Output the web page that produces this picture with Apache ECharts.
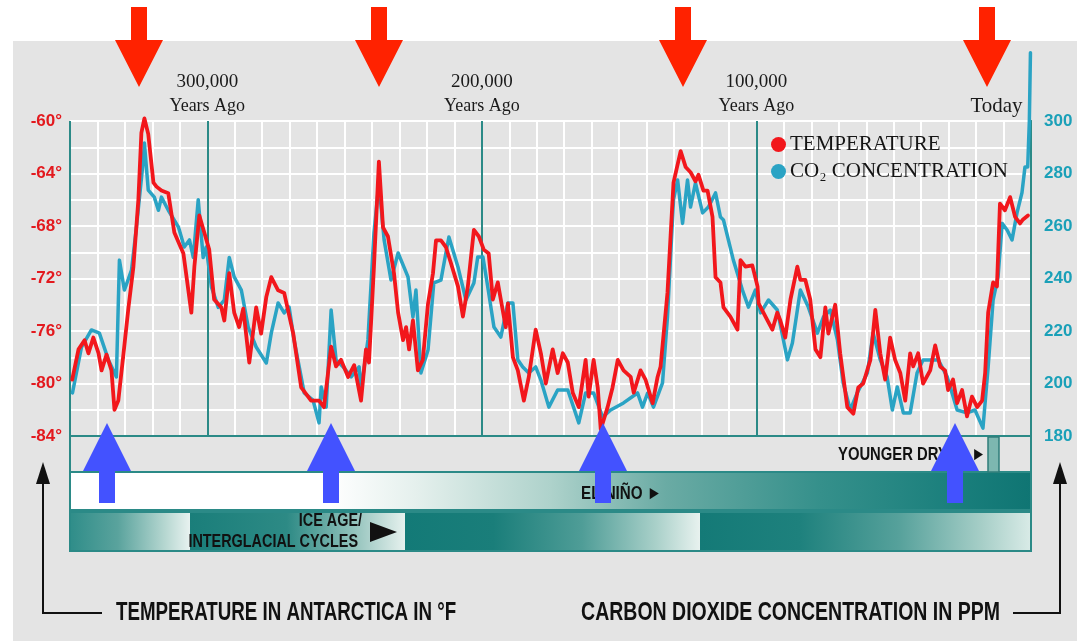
<!DOCTYPE html>
<html>
<head>
<meta charset="utf-8">
<script src="https://cdn.jsdelivr.net/npm/echarts@6/dist/echarts.min.js"></script>
<style>
html,body{margin:0;padding:0;background:#ffffff;}
#chart{width:1077px;height:641px;}
</style>
</head>
<body>
<div id="chart"></div>
<script>
// ---- Data (thousands of years ago) ----
const tempAge = [349.2,346.9,344.7,343.3,341.5,339.6,338.5,336.7,334.9,333.8,332.4,330.5,328.7,326.9,325.1,324.0,322.9,321.5,319.6,318.5,316.7,314.2,312.0,308.7,305.8,304.7,302.9,301.1,299.3,297.5,294.9,293.8,292.0,290.2,288.4,286.9,284.7,282.2,280.4,278.5,276.7,274.2,272.0,268.7,265.8,262.2,259.3,257.5,254.9,253.1,251.3,248.7,246.5,244.0,242.2,241.1,239.3,237.5,236.0,234.2,232.0,230.5,228.7,227.6,226.5,225.1,223.3,221.5,219.6,217.8,216.7,214.9,213.1,211.3,208.7,206.9,205.1,202.9,201.1,199.3,197.5,196.0,194.2,193.1,191.3,190.5,188.7,186.9,184.7,182.9,180.4,178.5,176.7,174.2,172.4,170.5,168.7,166.9,164.7,162.2,161.1,159.3,157.8,156.7,154.2,152.4,150.5,148.4,145.8,144.7,142.2,140.4,137.8,136.0,134.9,132.4,130.2,127.6,125.8,124.0,122.2,121.1,119.3,117.8,116.0,114.9,113.1,112.0,109.5,106.9,105.8,104.0,101.5,99.6,99.2,96.7,94.2,92.4,91.3,89.5,87.6,85.1,84.0,82.2,80.4,78.5,76.7,74.9,73.8,71.3,69.5,66.9,64.7,62.9,61.1,58.5,56.7,54.9,53.1,51.3,49.5,47.6,45.8,44.0,42.9,41.1,39.3,36.7,34.9,33.1,31.3,30.2,28.4,26.9,25.1,23.3,21.5,19.6,17.8,16.7,15.6,13.8,12.4,11.3,9.5,7.6,5.8,4.0,2.9,1.1];
const tempF = [-79.7,-77.4,-76.7,-77.7,-76.5,-77.7,-79.0,-77.8,-79.0,-82.0,-81.3,-77.7,-74.2,-71.1,-66.0,-60.9,-59.8,-61.0,-64.7,-65.0,-65.3,-65.5,-68.5,-70.1,-74.6,-71.1,-67.2,-68.5,-69.8,-73.6,-74.2,-75.2,-71.6,-74.6,-75.7,-74.3,-78.4,-74.2,-76.2,-73.4,-71.9,-72.9,-73.1,-76.2,-80.3,-81.3,-81.3,-81.8,-77.2,-78.7,-78.2,-79.5,-78.6,-81.3,-77.4,-78.4,-71.1,-63.1,-68.1,-68.8,-71.6,-74.6,-76.7,-75.7,-77.4,-75.2,-79.0,-78.2,-73.9,-71.6,-69.1,-69.1,-69.6,-70.8,-72.6,-74.9,-72.6,-68.3,-68.8,-69.8,-70.1,-73.6,-72.3,-73.6,-75.7,-73.9,-78.0,-79.0,-81.3,-79.5,-75.9,-77.7,-80.0,-77.4,-79.2,-77.7,-78.4,-80.7,-81.8,-78.2,-81.0,-78.2,-80.3,-83.5,-81.8,-80.3,-78.2,-79.0,-79.5,-80.7,-79.0,-79.7,-81.5,-79.5,-78.7,-73.1,-64.7,-62.3,-63.5,-63.9,-64.6,-64.1,-65.3,-65.3,-67.3,-71.9,-72.3,-74.2,-74.9,-75.9,-70.6,-71.1,-71.0,-72.6,-73.9,-74.9,-75.9,-74.6,-75.2,-76.5,-73.6,-71.1,-72.1,-72.1,-73.6,-77.4,-78.0,-74.2,-76.2,-74.0,-77.7,-81.8,-82.3,-80.3,-80.0,-78.2,-74.4,-77.7,-79.7,-76.5,-78.2,-79.2,-81.3,-77.7,-78.7,-77.7,-80.0,-79.0,-77.1,-78.7,-79.0,-80.5,-79.7,-81.5,-80.5,-82.5,-81.0,-81.8,-81.3,-79.2,-74.6,-72.3,-72.6,-66.3,-66.8,-65.8,-67.3,-67.8,-67.5,-67.2];
const co2Age = [349.1,345.8,342.2,339.3,336.0,333.1,332.0,330.2,327.6,325.8,323.3,322.9,321.5,319.3,317.8,316.7,314.2,310.5,308.4,306.5,305.1,303.3,301.5,300.4,298.5,296.0,293.8,292.0,290.2,287.6,285.1,282.2,278.5,276.7,274.2,272.0,270.2,268.4,264.7,261.5,259.3,258.5,256.7,254.9,253.1,250.5,247.6,244.7,244.0,241.5,239.3,237.5,235.6,233.1,230.5,226.9,225.1,224.0,222.2,219.6,217.5,214.9,213.1,212.0,208.7,205.8,202.9,201.5,199.6,197.5,195.6,193.1,190.5,188.7,186.9,185.1,182.9,180.4,178.5,175.6,172.4,168.7,164.7,162.2,159.3,156.0,153.1,148.4,143.3,141.5,139.6,137.5,134.2,132.4,130.2,128.7,126.9,125.1,124.0,122.2,119.6,117.5,114.9,113.1,112.0,108.4,105.1,102.9,100.4,98.5,95.6,92.4,88.7,86.9,84.0,81.1,77.8,75.6,73.1,70.5,68.4,65.8,63.3,59.6,57.5,54.9,52.4,50.5,48.7,46.5,44.0,41.5,39.3,36.7,33.8,30.5,26.9,23.3,20.4,17.5,15.6,13.8,12.0,10.5,8.7,6.9,5.1,3.3,2.2,1.2,0.6,0.2];
const co2Ppm = [196.4,213.9,220.4,219.2,209,202.5,247,235.6,243.2,259.6,285.1,291.6,273.7,271,266,271,266,259.6,252,254.7,248,270,248,252,236.8,229,231.8,248,240.6,235.6,221.5,213.9,207.8,219.2,230.7,226.9,229.1,216.6,196.4,193.7,185,198.7,191,228,209,206.3,202.5,206.3,197.5,216.6,257.3,276.4,254.7,239.4,249.7,240.6,225.3,235.6,204,212.8,238.3,239.4,249.7,255.8,244.4,231.8,238.3,248.2,248.2,234.5,221.5,217.7,230.7,230.7,209,206.3,204,206.3,201.3,191,197.5,197.5,185,196.4,196.4,187.2,189.9,192.6,196.4,191,196.4,191,200.2,225.3,270,277.5,261,277.5,267.2,276.4,265,267.2,272.6,263.4,262.3,247,235.6,229.1,235.6,226.9,231.8,228,209,215.4,235.6,229.1,219.2,225.3,228,216.6,200.2,189.9,196.4,204,219.2,209,202.5,189.9,198.7,188.8,188.8,204,209,209,209,202.5,189.9,188.8,189.9,183,206.3,231.8,240.6,261,258.5,254.7,265,272.6,282.5,282.5,300,326];

// Axis tick labels
const topTickValues = [300, 200, 100];
const topTickLabels = ['300,000', '200,000', '100,000'];
const todayLabel = 'Today';

// Timeline annotation labels
const bandLabels = {
  dryas: 'YOUNGER DRYAS ►',
  nino: 'EL NIÑO ►',
  ice1: 'ICE AGE/',
  ice2: 'INTERGLACIAL CYCLES'
};
const leftTitle = 'TEMPERATURE IN ANTARCTICA IN °F';
const rightTitle = 'CARBON DIOXIDE CONCENTRATION IN PPM';

// ---- Styles ----
const RED = '#f2171c';
const BLUE = '#2aa3c4';
const TEAL = '#2b8a87';
const SANS = "'Liberation Sans',Arial,sans-serif";
const SERIF = "'Liberation Serif','Times New Roman',serif";

function redArrow(cx){
  return {type:'polygon', silent:true, z:50,
    shape:{points:[[cx-8,7],[cx+8,7],[cx+8,40],[cx+24,40],[cx,87],[cx-24,40],[cx-8,40]]},
    style:{fill:'#ff2200'}};
}
function blueArrow(cx){
  return {type:'polygon', silent:true, z:50,
    shape:{points:[[cx,423],[cx+24,471],[cx+8,471],[cx+8,503],[cx-8,503],[cx-8,471],[cx-24,471]]},
    style:{fill:'#4352ff'}};
}
function grad(stops){
  return {type:'linear', x:0, y:0, x2:1, y2:0, colorStops:stops.map(s=>({offset:s[0], color:s[1]}))};
}
// condensed bold label: drawn at (x,y) and squeezed horizontally
function txt(x,y,text,size,sx,align){
  return {type:'text', silent:true, z:20, x:x, y:y, scaleX:sx, scaleY:1,
    style:{text:text, fill:'#111', font:'bold '+size+'px '+SANS, textAlign:align||'left', textVerticalAlign:'middle'}};
}

const chart = echarts.init(document.getElementById('chart'));
const option = {
  backgroundColor:'transparent',
  animation:false,
  grid:{left:70, right:46, top:121, bottom:205, containLabel:false, outerBoundsMode:'none'},
  legend:{
    orient:'vertical', left:771, top:134, padding:0, itemGap:6, itemWidth:15, itemHeight:15, icon:'circle',
    data:['TEMPERATURE','CO₂ CONCENTRATION'],
    textStyle:{fontFamily:SERIF, fontSize:21, color:'#151515', padding:[0,0,0,-1]}
  },
  xAxis:[
    {type:'value', min:0, max:350, interval:10, inverse:true, position:'bottom',
     axisLine:{show:true, onZero:false, lineStyle:{color:TEAL, width:2}},
     axisTick:{show:false}, axisLabel:{show:false},
     splitLine:{show:true, lineStyle:{color:'#ffffff', width:2}}},
    {type:'value', min:0, max:350, interval:100, inverse:true, position:'top',
     axisLine:{show:false}, axisTick:{show:false},
     splitLine:{show:true, lineStyle:{color:TEAL, width:2}},
     axisLabel:{margin:3, color:'#1a1a1a', hideOverlap:false,
       formatter:function(v){
         if (v === 0) return '{today|' + todayLabel + '}';
         const i = topTickValues.indexOf(v);
         if (i < 0) return '';
         return '{num|' + topTickLabels[i] + '}\n{sub|Years Ago}';
       },
       rich:{
         num:{fontFamily:SERIF, fontSize:19, lineHeight:24, color:'#1a1a1a'},
         sub:{fontFamily:SERIF, fontSize:18, lineHeight:24, color:'#1a1a1a'},
         today:{fontFamily:SERIF, fontSize:21, lineHeight:24, color:'#1a1a1a', padding:[0,69,0,0]}
       }}}
  ],
  yAxis:[
    {type:'value', min:-84, max:-60, interval:2, position:'left',
     axisLine:{show:true, lineStyle:{color:TEAL, width:2}}, axisTick:{show:false},
     splitLine:{show:true, lineStyle:{color:'#ffffff', width:2}},
     axisLabel:{margin:8, color:'#e3191e', fontFamily:SANS, fontWeight:'bold', fontSize:17,
       formatter:function(v){ return (v % 4 === 0) ? v + '°' : ''; }}},
    {type:'value', min:180, max:300, interval:20, position:'right',
     axisLine:{show:true, lineStyle:{color:TEAL, width:2}}, axisTick:{show:false},
     splitLine:{show:false},
     axisLabel:{margin:13, color:'#1aa0b8', fontFamily:SANS, fontWeight:'bold', fontSize:17}}
  ],
  series:[
    {type:'line', name:'CO₂ CONCENTRATION', xAxisIndex:0, yAxisIndex:1, clip:false, z:3,
     symbol:'none', showSymbol:false,
     data: co2Age.map((a,i)=>[a, co2Ppm[i]]),
     itemStyle:{color:BLUE}, lineStyle:{color:BLUE, width:3.5, join:'round', cap:'round'}},
    {type:'line', name:'TEMPERATURE', xAxisIndex:0, yAxisIndex:0, clip:false, z:4,
     symbol:'none', showSymbol:false,
     data: tempAge.map((a,i)=>[a, tempF[i]]),
     itemStyle:{color:RED}, lineStyle:{color:RED, width:3.8, join:'round', cap:'round'}}
  ],
  graphic:[
    {type:'rect', silent:true, z:-100, shape:{x:13,y:41,width:1064,height:600}, style:{fill:'#e4e4e4'}},
    // band row 1 (Younger Dryas)
    {type:'rect', silent:true, z:10, shape:{x:70,y:436,width:961,height:36}, style:{fill:'none', stroke:TEAL, lineWidth:2}},
    {type:'rect', silent:true, z:11, shape:{x:988,y:437,width:11,height:35}, style:{fill:'#7db7b0', stroke:'#2f7d79', lineWidth:1.5}},
    // band row 2 (El Nino)
    {type:'rect', silent:true, z:10, shape:{x:70,y:472,width:961,height:38},
     style:{fill:grad([[0,'#ffffff'],[0.27,'#ffffff'],[0.36,'#e5f0ed'],[0.5,'#aed2cb'],[0.62,'#6aaba4'],[0.78,'#35908b'],[0.92,'#1a7f7c'],[1,'#0f7573']]), stroke:TEAL, lineWidth:2}},
    // band row 3 (Ice age)
    {type:'rect', silent:true, z:10, shape:{x:70,y:513,width:120,height:38},
     style:{fill:grad([[0,'#2f8d89'],[0.4,'#5aa39d'],[0.8,'#b8d8d2'],[1,'#e8f2f0']])}},
    {type:'rect', silent:true, z:10, shape:{x:190,y:513,width:215,height:38},
     style:{fill:grad([[0,'#1a7e7a'],[0.45,'#2d8a85'],[0.75,'#8ec0b9'],[1,'#e6f1ee']])}},
    {type:'rect', silent:true, z:10, shape:{x:405,y:513,width:295,height:38},
     style:{fill:grad([[0,'#137a77'],[0.3,'#1a7e7a'],[0.6,'#4f9d97'],[0.85,'#a9d0c9'],[1,'#e8f2ef']])}},
    {type:'rect', silent:true, z:10, shape:{x:700,y:513,width:331,height:38},
     style:{fill:grad([[0,'#147a77'],[0.3,'#1e817d'],[0.6,'#56a19b'],[0.85,'#a6cec7'],[1,'#d9ebe7']])}},
    {type:'rect', silent:true, z:11, shape:{x:70,y:512,width:961,height:39}, style:{fill:'none', stroke:TEAL, lineWidth:2}},
    // band texts
    txt(838, 455, bandLabels.dryas, 19, 0.78),
    txt(581, 494, bandLabels.nino, 19, 0.8),
    txt(362, 521, bandLabels.ice1, 18, 0.8, 'right'),
    txt(358, 542, bandLabels.ice2, 18, 0.8, 'right'),
    {type:'polygon', silent:true, z:20, shape:{points:[[370,522],[397,532],[370,542]]}, style:{fill:'#111'}},
    // bottom titles with arrows
    txt(116, 613, leftTitle, 25, 0.75),
    txt(1000, 613, rightTitle, 25, 0.78, 'right'),
    {type:'polyline', silent:true, z:20, shape:{points:[[102,613],[43,613],[43,478]]}, style:{stroke:'#111', lineWidth:2, fill:'none'}},
    {type:'polygon', silent:true, z:20, shape:{points:[[36,484],[43,462],[50,484]]}, style:{fill:'#111'}},
    {type:'polyline', silent:true, z:20, shape:{points:[[1013,613],[1060,613],[1060,478]]}, style:{stroke:'#111', lineWidth:2, fill:'none'}},
    {type:'polygon', silent:true, z:20, shape:{points:[[1053,484],[1060,462],[1067,484]]}, style:{fill:'#111'}},
    // arrows
    redArrow(139), redArrow(379), redArrow(683), redArrow(987),
    blueArrow(107), blueArrow(331), blueArrow(603), blueArrow(955)
  ]
};
chart.setOption(option);
</script>
</body>
</html>
